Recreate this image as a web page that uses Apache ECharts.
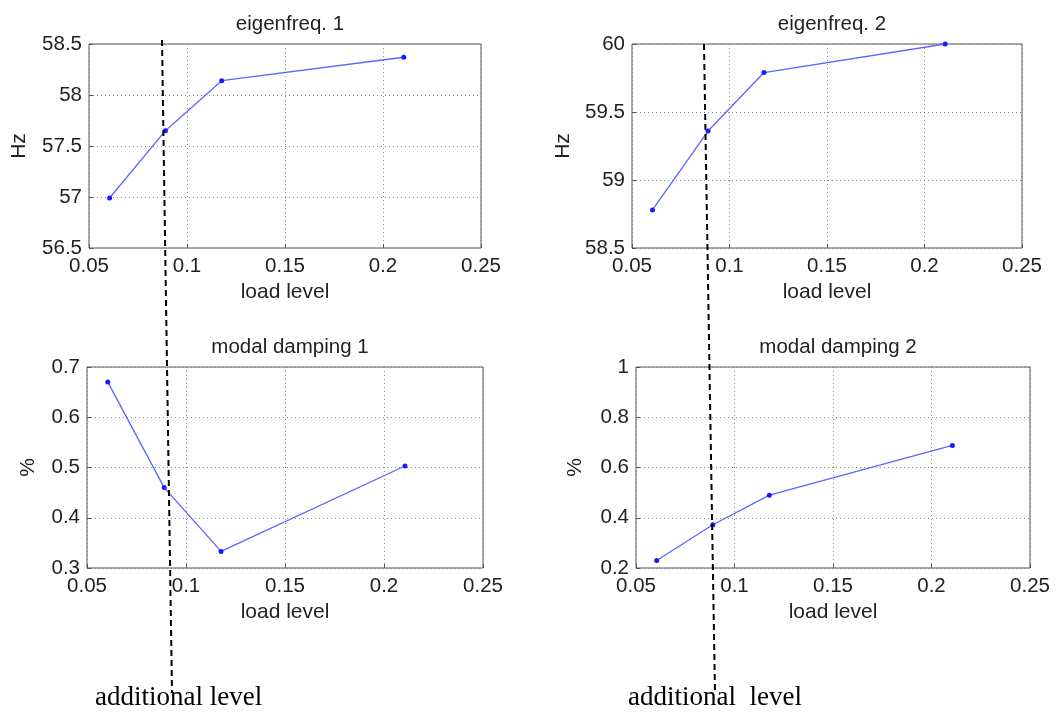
<!DOCTYPE html>
<html>
<head>
<meta charset="utf-8">
<script src="https://cdn.jsdelivr.net/npm/echarts@6/dist/echarts.min.js"></script>
<style>
html,body{margin:0;padding:0;background:#fff;}
#c{width:1061px;height:720px;}
</style>
</head>
<body>
<div id="c"></div>
<script>
// ---- data ----
const loadLevel = [0.0605, 0.089, 0.1177, 0.2106];
const eigenfreq1 = [56.99, 57.65, 58.14, 58.37];
const eigenfreq2 = [58.78, 59.36, 59.79, 60.0];
const damping1 = [0.67, 0.46, 0.333, 0.503];
const damping2 = [0.23, 0.372, 0.49, 0.688];
const titles = ['eigenfreq. 1', 'eigenfreq. 2', 'modal damping 1', 'modal damping 2'];
const yNames = ['Hz', 'Hz', '%', '%'];
const xName = 'load level';
const xTicks = [0.05, 0.25, 0.05]; // min, max, interval
const yTicks = [[56.5, 58.5, 0.5], [58.5, 60, 0.5], [0.3, 0.7, 0.1], [0.2, 1, 0.2]];
const annotation = ['additional level', 'additional  level'];

// ---- layout ----
const grids = [
  {left: 89, top: 44, width: 392, height: 204},
  {left: 632, top: 44, width: 390, height: 204},
  {left: 87, top: 367, width: 396, height: 201},
  {left: 636, top: 367, width: 394, height: 201}
];
const nameGaps = [59, 58, 48, 50];
const seriesData = [eigenfreq1, eigenfreq2, damping1, damping2];
const font = 'Liberation Sans, Arial, sans-serif';

const option = {
  animation: false,
  backgroundColor: '#fff',
  title: titles.map((t, i) => ({
    text: t,
    left: grids[i].left + grids[i].width / 2,
    top: grids[i].top - 35,
    textAlign: 'center',
    textStyle: {fontFamily: font, fontSize: 20.5, fontWeight: 'normal', color: '#222'}
  })),
  grid: grids.map(g => Object.assign({show: true, borderColor: '#555', borderWidth: 1, backgroundColor: '#fff'}, g)),
  xAxis: grids.map((g, i) => ({
    type: 'value', gridIndex: i, min: xTicks[0], max: xTicks[1], interval: xTicks[2],
    name: xName, nameLocation: 'middle', nameGap: 34,
    nameTextStyle: {fontFamily: font, fontSize: 21, color: '#222'},
    axisLine: {show: false},
    axisTick: {show: true, inside: true, length: 4, lineStyle: {color: '#555'}},
    axisLabel: {fontFamily: font, fontSize: 20.5, color: '#222', margin: 8},
    splitLine: {show: true, lineStyle: {color: '#888', type: [1, 3], width: 1}}
  })),
  yAxis: grids.map((g, i) => ({
    type: 'value', gridIndex: i, min: yTicks[i][0], max: yTicks[i][1], interval: yTicks[i][2],
    name: yNames[i], nameLocation: 'middle', nameGap: nameGaps[i],
    nameTextStyle: {fontFamily: font, fontSize: 21, color: '#222'},
    axisLine: {show: false},
    axisTick: {show: true, inside: true, length: 4, lineStyle: {color: '#555'}},
    axisLabel: {fontFamily: font, fontSize: 20.5, color: '#222', margin: 7},
    splitLine: {show: true, lineStyle: {color: '#888', type: [1, 3], width: 1}}
  })),
  series: seriesData.map((d, i) => ({
    type: 'line', xAxisIndex: i, yAxisIndex: i,
    data: loadLevel.map((x, k) => [x, d[k]]),
    symbol: 'circle', symbolSize: 5, showAllSymbol: true,
    itemStyle: {color: '#1a1aff'},
    lineStyle: {color: '#5a66ff', width: 1.3}
  })),
  graphic: [
    {type: 'line', shape: {x1: 162, y1: 40, x2: 172, y2: 692}, style: {stroke: '#000', lineWidth: 2, lineDash: [6, 4]}, z: 100},
    {type: 'line', shape: {x1: 704, y1: 44, x2: 715, y2: 693}, style: {stroke: '#000', lineWidth: 2, lineDash: [6, 4]}, z: 100},
    {type: 'text', x: 95, y: 711, style: {text: annotation[0], font: '27px "Liberation Serif", "Times New Roman", serif', fill: '#000', textVerticalAlign: 'bottom'}, z: 100},
    {type: 'text', x: 628, y: 711, style: {text: annotation[1], font: '27px "Liberation Serif", "Times New Roman", serif', fill: '#000', textVerticalAlign: 'bottom'}, z: 100}
  ]
};

const chart = echarts.init(document.getElementById('c'), null, {renderer: 'canvas'});
chart.setOption(option);
</script>
</body>
</html>
